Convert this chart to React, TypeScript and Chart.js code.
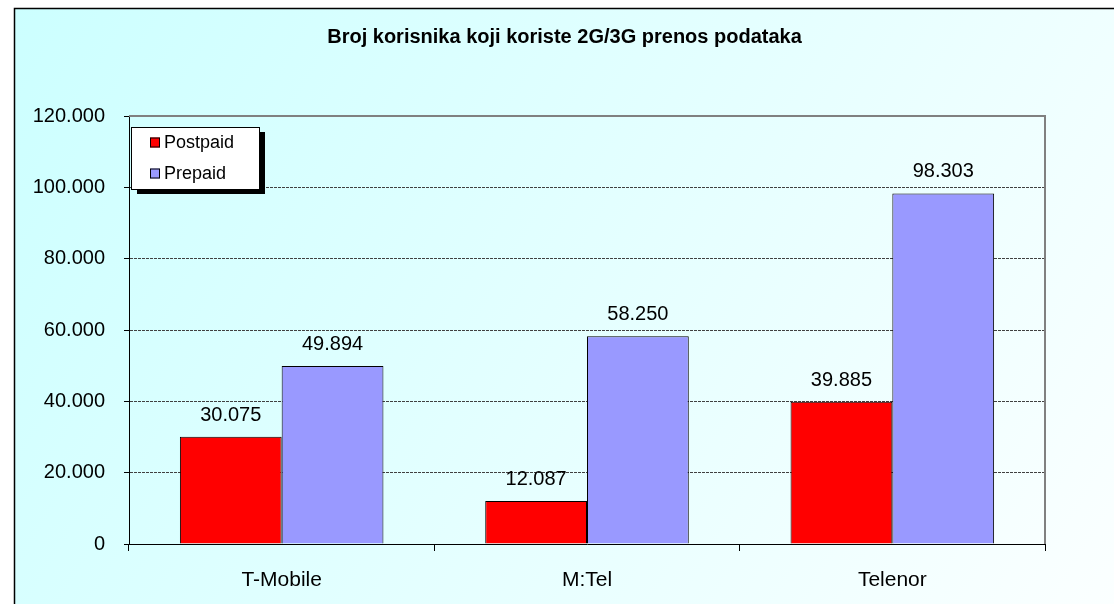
import React, { useEffect, useRef } from "react";
import { Chart, registerables } from "chart.js";

Chart.register(...registerables);

const chartTitle = "Broj korisnika koji koriste 2G/3G prenos podataka";
const categories = ["T-Mobile", "M:Tel", "Telenor"];
const seriesNames = ["Postpaid", "Prepaid"];
const postpaid = [30075, 12087, 39885];
const prepaid = [49894, 58250, 98303];
const seriesColors = ["#FF0000", "#9999FF"];
const yTicks = [0, 20000, 40000, 60000, 80000, 100000, 120000];

const FONT = "'Liberation Sans', Arial, Helvetica, sans-serif";
const W = 1114;
const H = 604;

const fmt = (v: number) => String(Math.round(v)).replace(/\B(?=(\d{3})+(?!\d))/g, ".");

const backgroundPlugin = {
  id: "bgPlugin",
  beforeDraw(chart: any) {
    const { ctx } = chart;
    ctx.save();
    ctx.fillStyle = "#FFFFFF";
    ctx.fillRect(0, 0, W, H);
    const g = ctx.createLinearGradient(14, 8, W, H + 60);
    g.addColorStop(0, "#CCFFFF");
    g.addColorStop(1, "#FCFFFF");
    ctx.fillStyle = g;
    ctx.fillRect(14, 8, W - 14, H - 8);
    ctx.strokeStyle = "#000000";
    ctx.lineWidth = 1.5;
    ctx.beginPath();
    ctx.moveTo(14.5, H);
    ctx.lineTo(14.5, 8.5);
    ctx.lineTo(W, 8.5);
    ctx.stroke();
    // title
    ctx.fillStyle = "#000000";
    ctx.font = `bold 20px ${FONT}`;
    ctx.textAlign = "center";
    ctx.textBaseline = "middle";
    ctx.fillText(chartTitle, 564.5, 37);
    ctx.restore();
  },
  beforeDatasetsDraw(chart: any) {
    const { ctx, chartArea } = chart;
    ctx.save();
    ctx.strokeStyle = "#808080";
    ctx.lineWidth = 2;
    ctx.beginPath();
    ctx.moveTo(chartArea.left, chartArea.top);
    ctx.lineTo(chartArea.right, chartArea.top);
    ctx.lineTo(chartArea.right, chartArea.bottom);
    ctx.stroke();
    ctx.restore();
  },
  afterDatasetsDraw(chart: any) {
    const { ctx } = chart;
    ctx.save();
    ctx.fillStyle = "#000000";
    ctx.font = `20px ${FONT}`;
    ctx.textAlign = "center";
    ctx.textBaseline = "alphabetic";
    chart.data.datasets.forEach((ds: any, di: number) => {
      const meta = chart.getDatasetMeta(di);
      meta.data.forEach((el: any, i: number) => {
        ctx.fillText(fmt(ds.data[i]), el.x, el.y - 16);
      });
    });
    ctx.restore();
  },
  afterDraw(chart: any) {
    const { ctx, chartArea } = chart;
    const x = chartArea.left + 2;
    const y = chartArea.top + 11;
    const w = 128;
    const h = 62;
    ctx.save();
    ctx.fillStyle = "#000000";
    ctx.fillRect(x + 6, y + 5, w, h);
    ctx.fillStyle = "#FFFFFF";
    ctx.fillRect(x, y, w, h);
    ctx.strokeStyle = "#000000";
    ctx.lineWidth = 1;
    ctx.strokeRect(x + 0.5, y + 0.5, w, h);
    ctx.font = `18px ${FONT}`;
    ctx.textAlign = "left";
    ctx.textBaseline = "middle";
    chart.data.datasets.forEach((ds: any, di: number) => {
      const cy = y + 15.5 + di * 31;
      ctx.fillStyle = ds.backgroundColor;
      ctx.fillRect(x + 19, cy - 5, 10, 10);
      ctx.strokeStyle = "#000000";
      ctx.strokeRect(x + 19.5, cy - 4.5, 9, 9);
      ctx.fillStyle = "#000000";
      ctx.fillText(ds.label, x + 33, cy + 1);
    });
    ctx.restore();
  },
};

export default function App() {
  const ref = useRef<HTMLCanvasElement>(null);

  useEffect(() => {
    if (!ref.current) return;
    const chart = new Chart(ref.current, {
      type: "bar",
      data: {
        labels: categories,
        datasets: [
          {
            label: seriesNames[0],
            data: postpaid,
            backgroundColor: seriesColors[0],
            borderColor: "#000000",
            borderWidth: 1,
            categoryPercentage: 2 / 3,
            barPercentage: 1,
          },
          {
            label: seriesNames[1],
            data: prepaid,
            backgroundColor: seriesColors[1],
            borderColor: "#000000",
            borderWidth: 1,
            categoryPercentage: 2 / 3,
            barPercentage: 1,
          },
        ],
      },
      options: {
        responsive: false,
        animation: false,
        devicePixelRatio: 1,
        layout: { padding: { left: 0, top: 116, right: 69, bottom: 0 } },
        plugins: {
          legend: { display: false },
          title: { display: false },
          tooltip: { enabled: false },
        },
        scales: {
          x: {
            offset: true,
            grid: {
              display: true,
              drawOnChartArea: false,
              drawTicks: true,
              tickLength: 7,
              tickColor: "#000000",
              tickWidth: 1,
            },
            border: { display: true, color: "#000000", width: 1 },
            ticks: {
              color: "#000000",
              font: { family: FONT, size: 21 },
              padding: 17,
            },
            afterFit: (s: any) => {
              s.height = 60;
            },
          },
          y: {
            min: 0,
            max: 120000,
            afterBuildTicks: (s: any) => {
              s.ticks = yTicks.map((v) => ({ value: v }));
            },
            grid: {
              color: (c: any) =>
                c.tick && (c.tick.value === 0 || c.tick.value === 120000) ? "rgba(0,0,0,0)" : "#404040",
              lineWidth: 1,
              drawTicks: true,
              tickLength: 5,
              tickColor: "#000000",
              tickWidth: 1,
              tickBorderDash: [],
            },
            border: { display: true, color: "#000000", width: 1, dash: [3, 1] },
            ticks: {
              color: "#000000",
              font: { family: FONT, size: 20 },
              padding: 19,
              callback: (v: any) => fmt(Number(v)),
            },
            afterFit: (s: any) => {
              s.width = 129;
            },
          },
        },
      },
      plugins: [backgroundPlugin],
    });
    return () => chart.destroy();
  }, []);

  return (
    <div style={{ position: "absolute", left: 0, top: 0, width: W, height: H }}>
      <canvas ref={ref} width={W} height={H} style={{ width: W, height: H, display: "block" }} />
    </div>
  );
}
